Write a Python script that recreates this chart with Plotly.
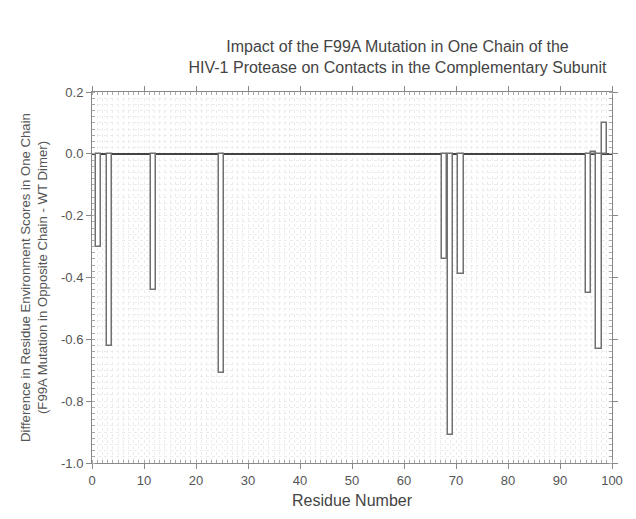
import plotly.graph_objects as go

residues = [1.3, 3.4, 11.8, 24.9, 67.8, 68.9, 71.0, 95.5, 96.4, 97.5, 98.6]
score_diff = [-0.30, -0.62, -0.44, -0.71, -0.34, -0.91, -0.39, -0.45, 0.005, -0.63, 0.10]

x_ticks = [0, 10, 20, 30, 40, 50, 60, 70, 80, 90, 100]
y_ticks = [0.2, 0.0, -0.2, -0.4, -0.6, -0.8, -1.0]

font_family = "Liberation Sans, Arial, sans-serif"

fig = go.Figure()
fig.add_trace(go.Bar(
    x=residues, y=score_diff, width=1.05,
    marker=dict(color="white", line=dict(color="#707070", width=1.5)),
    showlegend=False,
))

axis_common = dict(
    showline=True, linecolor="#888", linewidth=1, mirror="allticks",
    ticks="outside", ticklen=5, tickcolor="#888", tickwidth=1,
    showgrid=False,
    tickfont=dict(family=font_family, size=13, color="#555"),
)

fig.update_xaxes(
    range=[0, 100], tickvals=x_ticks, ticktext=[str(v) for v in x_ticks],
    title=dict(text="Residue Number", font=dict(family=font_family, size=16, color="#444"), standoff=8),
    minor=dict(dtick=1, ticks="inside", ticklen=3, tickcolor="#aaa",
               showgrid=True, gridcolor="#ececec", griddash="dot", gridwidth=1),
    zeroline=False,
    **axis_common,
)
fig.update_yaxes(
    range=[-1.0, 0.2], tickvals=y_ticks, ticktext=[f"{v:.1f}" for v in y_ticks],
    title=dict(text="Difference in Residue Environment Scores in One Chain<br>(F99A Mutation in Opposite Chain - WT Dimer)",
               font=dict(family=font_family, size=13.2, color="#555"), standoff=10),
    minor=dict(dtick=0.02, ticks="inside", ticklen=3, tickcolor="#aaa",
               showgrid=True, gridcolor="#ececec", griddash="dot", gridwidth=1),
    zeroline=True, zerolinecolor="#444", zerolinewidth=1.5,
    **axis_common,
)

fig.update_layout(
    width=636, height=519,
    margin=dict(l=92, r=24, t=92, b=53),
    paper_bgcolor="white", plot_bgcolor="white",
    title=dict(
        text="Impact of the F99A Mutation in One Chain of the<br>HIV-1 Protease on Contacts in the Complementary Subunit",
        x=0.625, xanchor="center", y=0.9, yanchor="top",
        font=dict(family=font_family, size=16, color="#444"),
    ),
    bargap=0,
)

fig.write_html("out.html")
